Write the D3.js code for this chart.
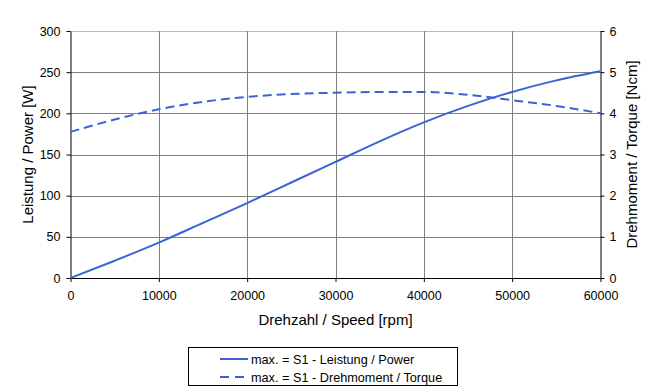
<!DOCTYPE html>
<html><head><meta charset="utf-8">
<script src="https://cdn.jsdelivr.net/npm/d3@7"></script>
<style>body{margin:0;background:#fff}svg text{font-family:"Liberation Sans",Arial,sans-serif;fill:#000}</style>
</head><body><svg id="c" width="662" height="392"></svg>
<script>
const speeds = [0,5000,10000,15000,20000,25000,30000,35000,40000,45000,50000,55000,60000];
const power = [0,21,43,67,91,116,141,166,189,209,226,240,251];
const torque = [3.55,3.85,4.10,4.28,4.40,4.47,4.50,4.52,4.52,4.45,4.32,4.18,4.00];
const xTicks = [0,10000,20000,30000,40000,50000,60000];
const leftTicks = [0,50,100,150,200,250,300];
const rightTicks = [0,1,2,3,4,5,6];
const seriesNames = ["max. = S1 - Leistung / Power","max. = S1 - Drehmoment / Torque"];
const axisTitles = {x:"Drehzahl / Speed [rpm]", yl:"Leistung / Power [W]", yr:"Drehmoment / Torque [Ncm]"};

const L=70.5, R=600.5, T=31, B=278;
const svg=d3.select("#c");
const x=d3.scaleLinear().domain([0,60000]).range([L,R]);
const yl=d3.scaleLinear().domain([0,300]).range([B,T]);
const yr=d3.scaleLinear().domain([0,6]).range([B,T]);
const blue="#3b63d6";

// grid
svg.append("g").selectAll("line").data(leftTicks.filter(d=>d>0)).join("line")
  .attr("x1",L).attr("x2",R).attr("y1",d=>Math.round(yl(d))+0.5).attr("y2",d=>Math.round(yl(d))+0.5)
  .attr("stroke",d=>d===300?"#b8b8b8":"#808080").attr("stroke-width",1);
svg.append("g").selectAll("line").data(xTicks.filter(d=>d>0&&d<60000)).join("line")
  .attr("x1",d=>Math.round(x(d))+0.5).attr("x2",d=>Math.round(x(d))+0.5).attr("y1",T).attr("y2",B)
  .attr("stroke","#808080").attr("stroke-width",1);

// axes
const fmt=d3.format("d");
const gl=svg.append("g").attr("transform",`translate(${L},0)`).call(d3.axisLeft(yl).tickValues(leftTicks).tickSize(4).tickSizeOuter(0).tickPadding(6).tickFormat(fmt));
const gr=svg.append("g").attr("transform",`translate(${R},0)`).call(d3.axisRight(yr).tickValues(rightTicks).tickSize(4).tickSizeOuter(0).tickPadding(5).tickFormat(fmt));
const gb=svg.append("g").attr("transform",`translate(0,${B})`).call(d3.axisBottom(x).tickValues(xTicks).tickSize(4).tickSizeOuter(0).tickPadding(9).tickFormat(fmt));
[gl,gr,gb].forEach(g=>{g.selectAll("path,line").attr("stroke","#000");g.selectAll("text").attr("font-size",12.5).attr("font-family","Liberation Sans, Arial, sans-serif").attr("fill","#000");});

// lines
const lp=d3.line().x((d,i)=>x(speeds[i])).y(d=>yl(d)).curve(d3.curveMonotoneX);
const lt=d3.line().x((d,i)=>x(speeds[i])).y(d=>yr(d)).curve(d3.curveMonotoneX);
svg.append("path").datum(power).attr("d",lp).attr("fill","none").attr("stroke",blue).attr("stroke-width",2);
svg.append("path").datum(torque).attr("d",lt).attr("fill","none").attr("stroke",blue).attr("stroke-width",2).attr("stroke-dasharray","9,5");

// titles
svg.append("text").attr("x",(L+R)/2).attr("y",325).attr("text-anchor","middle").attr("font-size",15).text(axisTitles.x);
svg.append("text").attr("transform",`translate(33,${(T+B)/2}) rotate(-90)`).attr("text-anchor","middle").attr("font-size",15).text(axisTitles.yl);
svg.append("text").attr("transform",`translate(637,${(T+B)/2}) rotate(-90)`).attr("text-anchor","middle").attr("font-size",15).text(axisTitles.yr);

// legend
svg.append("rect").attr("x",188.5).attr("y",347.5).attr("width",269).attr("height",38).attr("fill","#fff").attr("stroke","#000");
seriesNames.forEach((n,i)=>{
  const yy=359+i*18;
  svg.append("line").attr("x1",220).attr("x2",248).attr("y1",yy).attr("y2",yy).attr("stroke",blue).attr("stroke-width",2)
    .attr("stroke-dasharray",i?"9,6":null);
  svg.append("text").attr("x",251).attr("y",yy+4.5).attr("font-size",12.7).text(n);
});
</script></body></html>
